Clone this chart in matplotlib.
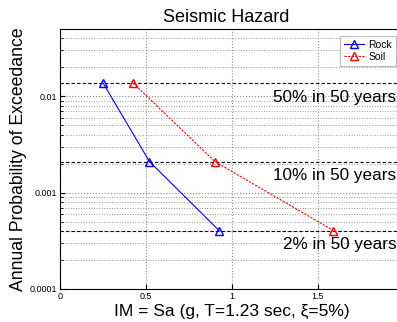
import numpy as np
import matplotlib
matplotlib.use("Agg")
import matplotlib.pyplot as plt
from matplotlib.ticker import FixedLocator, FixedFormatter, NullFormatter, LogLocator

plt.rcParams['font.family'] = ['Liberation Sans', 'DejaVu Sans']

# Data
im_rock = [0.25, 0.52, 0.925]
im_soil = [0.425, 0.90, 1.59]
hazard_levels = [0.5, 0.1, 0.02]
hazard_labels = ["50% in 50 years", "10% in 50 years", "2% in 50 years"]
years = 50
rates = [1 - (1 - p) ** (1.0 / years) for p in hazard_levels]

fig = plt.figure(figsize=(3.97, 3.22), dpi=100)
ax = fig.add_axes([60 / 397, 33 / 322, 344 / 397, 260 / 322])

ax.set_yscale("log")
ax.set_xlim(0, 2)
ax.set_ylim(1e-4, 0.05)

# hazard lines
for r, lab in zip(rates, hazard_labels):
    ax.axhline(r, color="black", ls="--", lw=0.8, dashes=(3, 2))
    ax.text(1.955, r * 0.71, lab, ha="right", va="center", fontsize=12.3)

ax.plot(im_rock, rates, color="blue", lw=0.8, marker="^", mfc="none",
        mec="blue", ms=6, label="Rock")
ax.plot(im_soil, rates, color="red", lw=0.8, ls="--", dashes=(2, 1.2),
        marker="^", mfc="none", mec="red", ms=6, label="Soil")

ax.xaxis.set_major_locator(FixedLocator([0, 0.5, 1, 1.5]))
ax.xaxis.set_major_formatter(FixedFormatter(["0", "0.5", "1", "1.5"]))
ax.yaxis.set_major_locator(FixedLocator([1e-4, 1e-3, 1e-2]))
ax.yaxis.set_major_formatter(FixedFormatter(["0.0001", "0.001", "0.01"]))
ax.yaxis.set_minor_locator(LogLocator(base=10, subs=np.arange(2, 10), numticks=20))
ax.yaxis.set_minor_formatter(NullFormatter())
ax.tick_params(which="both", direction="in", labelsize=6.5, pad=2,
               top=False, right=False)
ax.grid(True, which="major", color="0.55", ls=":", lw=0.8)
ax.grid(True, which="minor", axis="y", color="0.6", ls=":", lw=0.7)

ax.set_title("Seismic Hazard", fontsize=13, pad=5, x=0.484)
ax.set_xlabel("IM = Sa (g, T=1.23 sec, ξ=5%)", fontsize=12.5, labelpad=2)
ax.set_ylabel("Annual Probability of Exceedance", fontsize=12.7, labelpad=2)

leg = ax.legend(loc="upper right", bbox_to_anchor=(401 / 397, 1 - 31 / 322),
                bbox_transform=fig.transFigure, fontsize=7.5, frameon=True,
                fancybox=False, edgecolor="0.6", handlelength=2.0,
                handletextpad=0.4, borderpad=0.35, labelspacing=0.2)
leg.get_frame().set_linewidth(0.6)

fig.savefig("out.png", dpi=100)
